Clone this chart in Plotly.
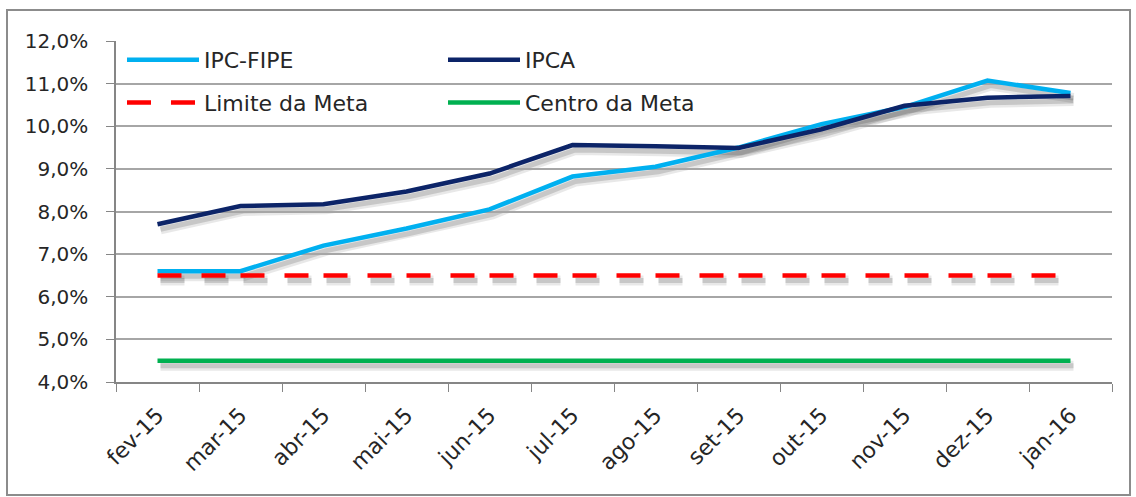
import plotly.graph_objects as go

months = ["fev-15", "mar-15", "abr-15", "mai-15", "jun-15", "jul-15",
          "ago-15", "set-15", "out-15", "nov-15", "dez-15", "jan-16"]
ipc_fipe = [6.60, 6.60, 7.20, 7.60, 8.05, 8.82, 9.05, 9.50, 10.05, 10.45, 11.07, 10.78]
ipca = [7.70, 8.13, 8.17, 8.47, 8.89, 9.56, 9.53, 9.49, 9.93, 10.48, 10.67, 10.71]
limite = [6.5] * 12
centro = [4.5] * 12

DASH = "24px,20px,24px,15px"
series = [
    ("IPC-FIPE", ipc_fipe, "#00B0F0", "solid", "legend"),
    ("Limite da Meta", limite, "#FF0000", DASH, "legend"),
    ("IPCA", ipca, "#0C2468", "solid", "legend2"),
    ("Centro da Meta", centro, "#00B050", "solid", "legend2"),
]

W, H = 1136, 497
SX, SY = 3, 5  # shadow offset in px
L, T = 116, 41
MW, MH = 996, 341  # main plot area size
R = W - (L + MW + SX)
B = H - (T + MH + SY)
FW, FH = MW + SX, MH + SY

def px_x(x):
    return (x - L) / FW

def px_y(y):
    return (T + FH - y) / FH

fig = go.Figure()
# soft shadows (on shifted, invisible axes)
for name, vals, color, dash, leg in series:
    fig.add_trace(go.Scatter(x=months, y=vals, mode="lines", showlegend=False,
                             hoverinfo="skip", xaxis="x", yaxis="y",
                             line=dict(color="rgba(0,0,0,0.09)", width=10, dash=dash)))
    fig.add_trace(go.Scatter(x=months, y=vals, mode="lines", showlegend=False,
                             hoverinfo="skip", xaxis="x", yaxis="y",
                             line=dict(color="rgba(0,0,0,0.14)", width=5, dash=dash)))
for i, (name, vals, color, dash, leg) in enumerate(series):
    fig.add_trace(go.Scatter(x=months, y=vals, name=name, mode="lines",
                             xaxis="x2", yaxis="y2",
                             line=dict(color=color, width=4.5, dash=dash),
                             legend=leg, legendgroup=str(i)))

legfont = dict(family="DejaVu Sans", size=22, color="#262626")
tickfont = dict(family="DejaVu Sans", size=20, color="#262626")
fig.update_layout(
    width=W, height=H,
    margin=dict(l=L, r=R, t=T, b=B),
    paper_bgcolor="white", plot_bgcolor="rgba(0,0,0,0)",
    separators=",.",
    font=dict(family="DejaVu Sans", size=19, color="#262626"),
    legend=dict(x=px_x(122), y=px_y(39), xanchor="left", yanchor="top",
                orientation="v", font=legfont, itemwidth=72,
                tracegroupgap=11, bgcolor="rgba(0,0,0,0)"),
    legend2=dict(x=px_x(443), y=px_y(39), xanchor="left", yanchor="top",
                 orientation="v", font=legfont, itemwidth=72,
                 tracegroupgap=11, bgcolor="rgba(0,0,0,0)"),
    xaxis=dict(type="category", range=[-0.5, 11.5], domain=[SX / FW, 1],
               visible=False, fixedrange=True),
    yaxis=dict(range=[4, 12], domain=[0, MH / FH], visible=False, fixedrange=True),
    xaxis2=dict(type="category", range=[-0.5, 11.5], domain=[0, MW / FW],
                anchor="y2", tickson="boundaries", ticks="outside", ticklen=8,
                tickcolor="#868686", showline=True, linecolor="#868686", linewidth=1.5,
                showgrid=False, tickangle=-45,
                tickfont=dict(family="DejaVu Sans", size=22, color="#262626"),
                ticklabelstandoff=10),
    yaxis2=dict(range=[4, 12], dtick=1, tickformat=".1f", ticksuffix="%",
                domain=[SY / FH, 1], anchor="x2",
                ticks="outside", ticklen=8, tickcolor="#868686",
                showline=True, linecolor="#868686", linewidth=1.5,
                showgrid=True, gridcolor="#A6A6A6", gridwidth=1.5,
                tickfont=tickfont, zeroline=False, ticklabelstandoff=14),
    shapes=[dict(type="rect", xref="paper", yref="paper",
                 x0=px_x(7), x1=px_x(1130), y0=px_y(495), y1=px_y(10),
                 line=dict(color="#8C8C8C", width=2), layer="below")],
)

fig.write_html("out.html", config={"displayModeBar": False},
               post_script="document.body.style.margin='0px';")
